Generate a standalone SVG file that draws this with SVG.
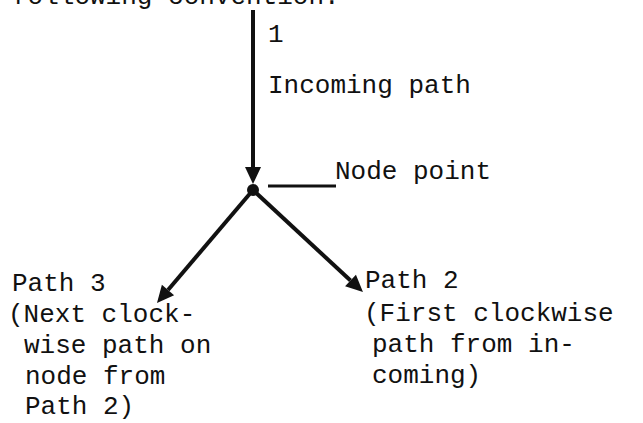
<svg xmlns="http://www.w3.org/2000/svg" width="643" height="423" viewBox="0 0 643 423">
<style>
  text { font-family: "Liberation Mono", "DejaVu Sans Mono", monospace; font-size: 26px; fill: #111; }
  .path { stroke: #111; stroke-width: 4; fill: none; }
  .leader { stroke: #111; stroke-width: 3; fill: none; }
</style>
<defs>
  <marker id="arrow" markerUnits="userSpaceOnUse" markerWidth="20" markerHeight="16" refX="0" refY="8" orient="auto" overflow="visible">
    <path d="M0,0 L17,8 L0,16 Z" fill="#111"/>
  </marker>
</defs>
<rect width="643" height="423" fill="#fff"/>
<g id="caption">
  <text x="12" y="4">following convention:</text>
</g>
<g id="connectors">
  <line id="path1" class="path" x1="253" y1="10" x2="253" y2="167" marker-end="url(#arrow)"/>
  <line id="path3" class="path" x1="253" y1="190" x2="168" y2="290" marker-end="url(#arrow)"/>
  <line id="path2" class="path" x1="253" y1="190" x2="350.5" y2="280.5" marker-end="url(#arrow)"/>
  <line id="node-leader" class="leader" x1="268" y1="186" x2="336" y2="186"/>
</g>
<g id="node-point">
  <circle cx="253" cy="190" r="6" fill="#111"/>
  <text x="335" y="179">Node point</text>
</g>
<g id="label-incoming">
  <text x="268" y="42">1</text>
  <text x="268" y="93">Incoming path</text>
</g>
<g id="label-path3">
  <text x="12" y="291">Path 3</text>
  <text x="8" y="322">(Next clock-</text>
  <text x="24" y="353">wise path on</text>
  <text x="25" y="384">node from</text>
  <text x="25" y="414">Path 2)</text>
</g>
<g id="label-path2">
  <text x="365" y="288">Path 2</text>
  <text x="364" y="321">(First clockwise</text>
  <text x="372" y="352">path from in-</text>
  <text x="372" y="383">coming)</text>
</g>
</svg>
